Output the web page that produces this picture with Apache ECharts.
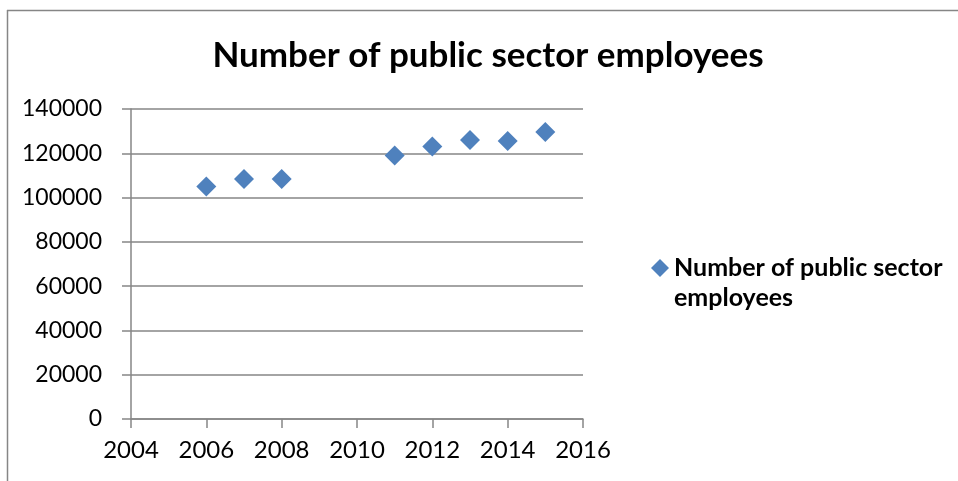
<!DOCTYPE html>
<html>
<head>
<meta charset="utf-8">
<script src="https://cdn.jsdelivr.net/npm/echarts@6/dist/echarts.min.js"></script>
<style>
  html, body { margin: 0; padding: 0; background: #fff; }
  #chart { width: 958px; height: 481px; }
</style>
</head>
<body>
<div id="chart"></div>
<script>
// Public sector headcount by year
const years = [2006, 2007, 2008, 2011, 2012, 2013, 2014, 2015];
const employees = [105000, 108400, 108400, 119000, 123100, 126000, 125500, 129600];
const seriesName = 'Number of public sector employees';
const titleText = 'Number of public sector employees';

const chart = echarts.init(document.getElementById('chart'), null, { renderer: 'canvas' });
const font = 'Lato, "Open Sans", "Liberation Sans", sans-serif';
const axisGrey = '#868686';

chart.setOption({
  animation: false,
  backgroundColor: '#ffffff',
  title: {
    text: titleText,
    left: 483,
    textAlign: 'center',
    top: 33,
    textStyle: { fontFamily: font, fontSize: 35, fontWeight: 'bold', color: '#000' }
  },
  legend: {
    left: 646,
    top: 218,
    orient: 'vertical',
    itemWidth: 18,
    itemHeight: 18,
    data: [{ name: seriesName, icon: 'diamond' }],
    // leading blank line keeps the marker level with the first text line
    formatter: () => '\nNumber of public sector\nemployees',
    textStyle: { fontFamily: font, fontSize: 25, fontWeight: 'bold', color: '#000', lineHeight: 30 }
  },
  grid: { left: 131, top: 109, width: 452, height: 310 },
  xAxis: {
    type: 'value',
    min: 2004,
    max: 2016,
    interval: 2,
    axisLine: { show: true, lineStyle: { color: axisGrey, width: 1.5 } },
    axisTick: { show: true, length: 9, lineStyle: { color: axisGrey, width: 1.5 } },
    axisLabel: { fontFamily: font, fontSize: 24, color: '#000', margin: 19, formatter: v => String(v) },
    splitLine: { show: false }
  },
  yAxis: {
    type: 'value',
    min: 0,
    max: 140000,
    interval: 20000,
    axisLine: { show: true, lineStyle: { color: axisGrey, width: 1.5 } },
    axisTick: { show: true, length: 9, lineStyle: { color: axisGrey, width: 1.5 } },
    axisLabel: { fontFamily: font, fontSize: 23, color: '#000', margin: 29, formatter: v => String(v) },
    splitLine: { show: true, lineStyle: { color: axisGrey, width: 1.5 } }
  },
  series: [{
    name: seriesName,
    type: 'scatter',
    symbol: 'diamond',
    symbolSize: 20,
    itemStyle: { color: '#4F81BD', opacity: 1 },
    data: years.map((y, i) => [y, employees[i]])
  }],
  graphic: [
    { type: 'line', shape: { x1: 7, y1: 10.5, x2: 958, y2: 10.5 }, style: { stroke: axisGrey, lineWidth: 1.5 } },
    { type: 'line', shape: { x1: 7.5, y1: 10, x2: 7.5, y2: 481 }, style: { stroke: axisGrey, lineWidth: 1.5 } }
  ]
});
</script>
</body>
</html>
